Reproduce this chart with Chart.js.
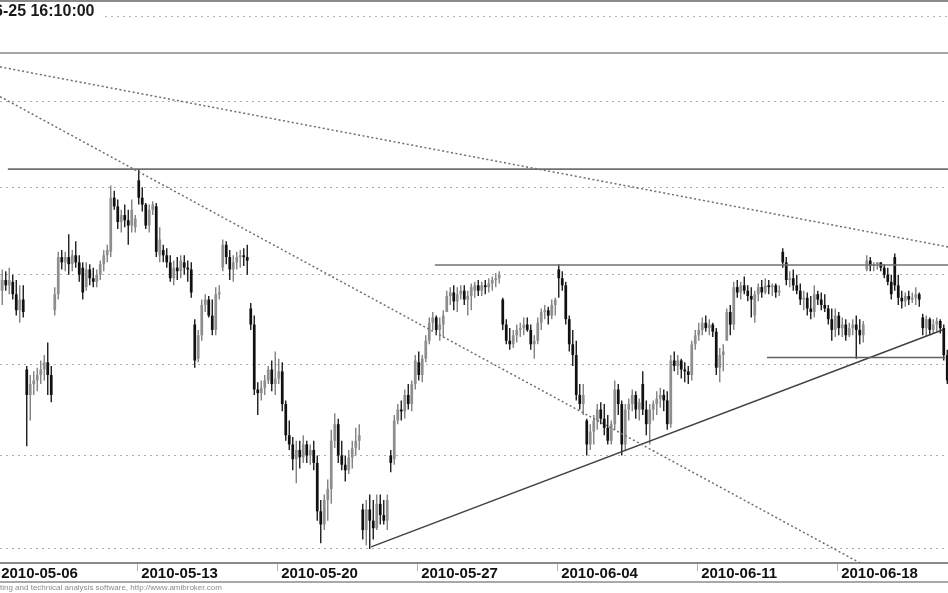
<!DOCTYPE html>
<html><head><meta charset="utf-8">
<script src="https://cdn.jsdelivr.net/npm/chart.js@4.4.0/dist/chart.umd.min.js"></script>
<style>
html,body{margin:0;padding:0;background:#fff;}
#wrap{position:relative;width:948px;height:593px;overflow:hidden;background:#fff;}
#c{position:absolute;left:0;top:0;}
.ov{position:absolute;}
</style></head><body>
<div id="wrap">
<canvas id="c" width="948" height="593"></canvas>
<div class="ov" style="left:0;top:0;width:948px;height:2px;background:#8a8a8a"></div>
<div class="ov" style="left:105px;top:16px;width:843px;height:1px;background:repeating-linear-gradient(to right,#b5b5b5 0 2px,transparent 2px 6px)"></div>
<div class="ov" style="left:-6px;top:3px;font:bold 16px 'Liberation Sans',Arial,sans-serif;line-height:16px;color:#1a1a1a;white-space:nowrap">6-25 16:10:00</div>
<div class="ov" style="left:0;top:52px;width:948px;height:2px;background:#a5a5a5"></div>
<div class="ov" style="left:0;top:581px;width:948px;height:2px;background:#a8a8a8"></div>
<div class="ov" style="left:0;top:584px;font:8px 'Liberation Sans',Arial,sans-serif;line-height:8px;color:#8a8a8a;white-space:nowrap">ting and technical analysis software, http://www.amibroker.com</div>
</div>
<script>
// ---- categories ----
const tradingDays = ['2010-05-06','2010-05-07','2010-05-10','2010-05-11','2010-05-12','2010-05-13','2010-05-14',
 '2010-05-17','2010-05-18','2010-05-19','2010-05-20','2010-05-21','2010-05-24','2010-05-25','2010-05-26',
 '2010-05-27','2010-05-28','2010-05-31','2010-06-01','2010-06-02','2010-06-04','2010-06-07','2010-06-08',
 '2010-06-09','2010-06-10','2010-06-11','2010-06-14','2010-06-15','2010-06-16','2010-06-17','2010-06-18',
 '2010-06-21','2010-06-22','2010-06-23'];
const barsPerDay = 8;
const weekLabels = ['2010-05-06','2010-05-13','2010-05-20','2010-05-27','2010-06-04','2010-06-11','2010-06-18'];
const gridValues = [2150,2200,2250,2300,2350,2400];

// ---- series (hourly OHLC) ----
const openP = [2300,2291,2297,2294,2296,2289,2280,2286, 2247,2233,2239,2241,2244,2247,2251,2244,
 2280,2289,2310,2307,2310,2306,2311,2307, 2304,2293,2303,2298,2296,2300,2306,2311,
 2313,2344,2339,2330,2334,2331,2328,2327, 2354,2344,2340,2328,2337,2339,2311,2314,
 2311,2307,2298,2304,2302,2307,2304,2303, 2272,2253,2266,2283,2286,2277,2269,2289,
 2304,2317,2310,2303,2307,2310,2311,2310, 2281,2272,2236,2234,2237,2241,2247,2239,
 2242,2246,2228,2211,2206,2198,2203,2199, 2206,2200,2203,2196,2170,2163,2176,2182,
 2208,2217,2200,2195,2192,2199,2204,2208, 2171,2160,2171,2165,2161,2174,2168,2165,
 2200,2198,2219,2225,2224,2233,2228,2239, 2251,2244,2253,2263,2273,2276,2269,2272,
 2279,2288,2290,2285,2289,2291,2286,2288, 2291,2294,2291,2294,2293,2295,2297,2298,
 2286,2272,2263,2261,2266,2269,2270,2272, 2269,2261,2263,2273,2279,2280,2277,2283,
 2303,2298,2294,2275,2261,2255,2233,2228, 2219,2206,2213,2219,2225,2220,2215,2208,
 2217,2236,2228,2206,2225,2228,2233,2225, 2239,2225,2217,2225,2228,2231,2233,2230,
 2217,2252,2249,2252,2247,2246,2244,2261, 2266,2269,2273,2270,2272,2268,2248,2255,
 2263,2279,2272,2293,2290,2294,2291,2288, 2277,2289,2293,2290,2294,2293,2294,2290,
 2313,2307,2297,2298,2294,2291,2286,2287, 2281,2279,2289,2286,2283,2281,2275,2269,
 2277,2270,2272,2266,2270,2272,2269,2266, 2303,2308,2305,2306,2307,2304,2300,2296,
 2310,2294,2287,2285,2288,2286,2287,2289, 2276,2270,2275,2269,2272,2274,2270,2255];
const highP = [2304,2303,2302,2304,2300,2297,2294,2294, 2249,2244,2246,2248,2252,2255,2262,2249,
 2293,2313,2314,2313,2323,2314,2319,2311, 2307,2307,2306,2304,2303,2308,2314,2317,
 2351,2348,2343,2337,2340,2337,2343,2334, 2360,2350,2341,2340,2342,2341,2327,2317,
 2315,2311,2308,2310,2311,2311,2308,2307, 2275,2269,2286,2289,2288,2286,2293,2294,
 2320,2319,2314,2311,2313,2314,2315,2317, 2284,2277,2240,2241,2244,2249,2252,2257,
 2253,2251,2230,2219,2210,2208,2208,2211, 2208,2206,2208,2200,2176,2179,2187,2214,
 2223,2220,2208,2200,2203,2208,2215,2217, 2174,2176,2179,2176,2179,2179,2176,2179,
 2203,2222,2228,2230,2236,2239,2241,2255, 2257,2255,2266,2276,2279,2277,2276,2280,
 2291,2293,2294,2293,2294,2294,2291,2295, 2296,2297,2296,2297,2298,2299,2301,2302,
 2287,2275,2270,2269,2272,2273,2276,2276, 2272,2266,2276,2281,2283,2282,2286,2287,
 2306,2302,2296,2277,2269,2263,2239,2239, 2220,2217,2222,2228,2229,2228,2222,2219,
 2241,2239,2230,2228,2231,2236,2235,2231, 2246,2230,2228,2230,2235,2237,2236,2235,
 2255,2257,2255,2253,2251,2249,2263,2269, 2273,2276,2277,2275,2273,2270,2259,2261,
 2281,2283,2296,2297,2296,2299,2294,2293, 2291,2295,2297,2298,2297,2295,2295,2294,
 2315,2310,2302,2303,2300,2295,2291,2290, 2288,2294,2291,2290,2289,2283,2281,2281,
 2279,2276,2275,2273,2275,2277,2275,2274, 2311,2310,2307,2307,2307,2306,2304,2300,
 2312,2300,2291,2290,2291,2290,2293,2290, 2278,2277,2276,2275,2276,2275,2272,2258];
const lowP = [2286,2283,2291,2289,2286,2277,2273,2276, 2205,2219,2233,2235,2239,2241,2233,2229,
 2277,2286,2303,2302,2300,2302,2304,2296, 2286,2291,2294,2293,2293,2297,2302,2307,
 2310,2337,2326,2324,2327,2317,2324,2324, 2340,2336,2326,2324,2334,2310,2307,2307,
 2304,2296,2294,2297,2298,2300,2296,2287, 2248,2251,2263,2279,2276,2266,2266,2286,
 2302,2306,2297,2296,2303,2304,2305,2300, 2269,2233,2222,2230,2233,2239,2235,2233,
 2239,2224,2208,2203,2192,2185,2193,2196, 2196,2195,2192,2165,2153,2160,2165,2174,
 2204,2196,2192,2186,2190,2193,2200,2203, 2155,2152,2150,2155,2160,2163,2163,2160,
 2191,2195,2217,2219,2220,2225,2224,2236, 2241,2240,2251,2261,2269,2266,2263,2265,
 2279,2283,2280,2279,2286,2283,2277,2280, 2287,2288,2288,2289,2290,2291,2293,2295,
 2269,2261,2258,2259,2262,2265,2266,2268, 2258,2253,2261,2269,2275,2272,2275,2277,
 2287,2291,2272,2257,2249,2230,2225,2222, 2200,2203,2206,2214,2217,2211,2206,2206,
 2214,2222,2200,2203,2219,2224,2220,2219, 2222,2211,2206,2219,2222,2226,2224,2214,
 2215,2246,2244,2242,2240,2239,2241,2258, 2263,2266,2268,2266,2265,2244,2240,2246,
 2263,2266,2269,2287,2286,2289,2285,2276, 2273,2285,2287,2289,2289,2288,2287,2288,
 2304,2294,2293,2291,2289,2283,2280,2277, 2275,2276,2283,2280,2279,2272,2263,2265,
 2266,2265,2263,2265,2266,2253,2261,2262, 2302,2302,2302,2303,2302,2298,2294,2286,
 2291,2283,2281,2282,2283,2284,2283,2282, 2266,2265,2266,2267,2268,2267,2252,2239];
const closeP = [2291,2297,2294,2297,2289,2280,2286,2279, 2233,2239,2241,2244,2247,2251,2244,2233,
 2289,2310,2307,2310,2306,2311,2307,2300, 2290,2303,2298,2296,2300,2306,2311,2314,
 2344,2339,2330,2334,2331,2328,2337,2332, 2344,2340,2328,2337,2340,2313,2320,2311,
 2307,2298,2304,2302,2308,2304,2303,2290, 2252,2266,2283,2286,2277,2269,2289,2290,
 2317,2310,2303,2307,2310,2311,2310,2308, 2272,2236,2234,2237,2241,2247,2239,2242,
 2246,2228,2211,2206,2198,2203,2199,2206, 2200,2203,2196,2170,2163,2176,2182,2208,
 2217,2200,2195,2192,2199,2204,2208,2211, 2160,2171,2165,2161,2174,2168,2165,2176,
 2196,2219,2225,2224,2233,2228,2239,2252, 2244,2253,2263,2273,2276,2269,2272,2277,
 2288,2290,2285,2289,2291,2286,2288,2293, 2294,2291,2294,2293,2295,2297,2298,2300,
 2272,2263,2261,2266,2269,2270,2272,2269, 2261,2263,2273,2279,2280,2277,2283,2286,
 2298,2294,2275,2261,2255,2233,2228,2233, 2206,2213,2219,2225,2220,2215,2208,2217,
 2236,2228,2206,2225,2228,2233,2225,2229, 2225,2217,2225,2228,2231,2233,2230,2217,
 2252,2249,2252,2247,2246,2244,2261,2266, 2269,2273,2270,2272,2268,2248,2255,2257,
 2279,2272,2293,2290,2294,2291,2288,2286, 2289,2293,2290,2294,2293,2294,2290,2291,
 2307,2297,2298,2294,2291,2286,2287,2281, 2279,2289,2286,2283,2281,2275,2269,2277,
 2270,2272,2266,2270,2272,2269,2266,2272, 2308,2305,2306,2307,2304,2300,2296,2289,
 2294,2287,2285,2288,2286,2287,2289,2286, 2270,2275,2269,2272,2274,2270,2255,2241];

// ---- drawn studies (x in bar index units, y in price) ----
const trendUpperDotted = [{x:0.36,y:2420.6},{x:271.2,y:2315.8}];
const trendLowerDotted = [{x:0.36,y:2403.0},{x:246.1,y:2142.6}];
const supportRising   = [{x:106.4,y:2151.1},{x:269.8,y:2269.1}];
const levelHigh   = [{x:2.6,y:2360.5},{x:271.2,y:2360.5}];
const levelMid    = [{x:124.6,y:2305.5},{x:271.2,y:2305.5}];
const levelLow    = [{x:219.5,y:2253.6},{x:270.4,y:2253.6}];

const weekTickPos = weekLabels.map(d => tradingDays.indexOf(d) * barsPerDay - 0.5);
const isUp = closeP.map((c,i) => c >= openP[i]);
const bodyColors = isUp.map(u => u ? '#8e8e8e' : '#111111');
const wickColors = isUp.map(u => u ? '#7a7a7a' : '#111111');

Chart.defaults.font.family = "'Liberation Sans', Arial, sans-serif";

function lineDs(data, color, width, dash) {
  return {type:'line', data, borderColor:color, borderWidth:width, borderDash:dash,
          pointRadius:0, fill:false, tension:0, order:0};
}

new Chart(document.getElementById('c'), {
  type: 'bar',
  data: { datasets: [
    lineDs(trendUpperDotted, '#6e6e6e', 1.5, [2,2.5]),
    lineDs(trendLowerDotted, '#6e6e6e', 1.5, [2,2.5]),
    lineDs(levelHigh, '#707070', 1.7, []),
    lineDs(levelMid, '#707070', 1.7, []),
    lineDs(levelLow, '#606060', 1.5, []),
    lineDs(supportRising, '#404040', 1.4, []),
    { label:'body', data: openP.map((o,i) => ({x:i, y:[o, closeP[i]]})),
      backgroundColor: bodyColors, grouped:false, categoryPercentage:1, barPercentage:0.78,
      minBarLength:1, order:1 },
    { label:'wick', data: highP.map((h,i) => ({x:i, y:[lowP[i], h]})),
      backgroundColor: wickColors, grouped:false, categoryPercentage:1, barPercentage:0.38,
      order:2 }
  ]},
  options: {
    responsive:false, animation:false, devicePixelRatio:1, events:[],
    layout:{padding:{top:55, left:0, right:0, bottom:0}},
    plugins:{legend:{display:false}, tooltip:{enabled:false}},
    scales:{
      x:{ type:'linear', min:0.357, max:271.21, bounds:'data', position:'bottom', offset:false,
        afterBuildTicks: ax => { ax.ticks = weekTickPos.map(v => ({value:v})); },
        afterFit: ax => { ax.height = 30; ax.paddingLeft = 0; ax.paddingRight = 0; },
        grid:{drawOnChartArea:false, drawTicks:true, tickLength:8, tickColor:'#b0b0b0', tickWidth:1, offset:false},
        border:{display:true, color:'#8a8a8a', width:2},
        ticks:{autoSkip:false, maxRotation:0, minRotation:0, align:'start', padding:-6,
          color:'#111', font:{size:15, weight:'bold'},
          callback:(v, i) => ' ' + weekLabels[i]}
      },
      y:{ type:'logarithmic', position:'right', min:2142.6, max:2427.7, bounds:'data',
        afterBuildTicks: ax => { ax.ticks = gridValues.map(v => ({value:v})); },
        afterFit: ax => { ax.width = 0; ax.paddingTop = 0; ax.paddingBottom = 0; },
        ticks:{display:false},
        grid:{color:'#adadad', lineWidth:1, drawTicks:false},
        border:{display:false, dash:[2,4]}
      }
    }
  }
});
</script>
</body></html>
